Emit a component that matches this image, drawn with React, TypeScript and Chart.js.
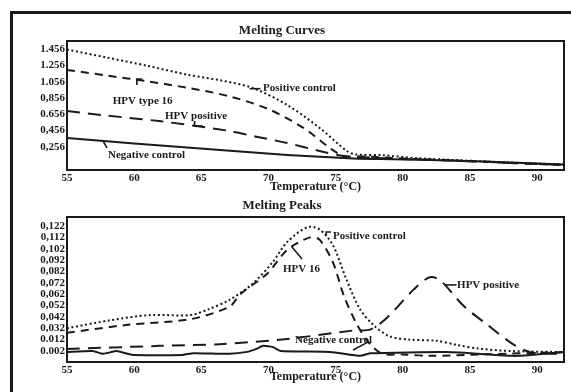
import React, { useEffect, useRef } from 'react';
import { Chart, registerables } from 'chart.js';

Chart.register(...registerables);

const FONT = "'Liberation Serif', 'Times New Roman', serif";
const INK = '#1a1a1a';

// ---------- shared axis ----------
const xTicks = [55, 60, 65, 70, 75, 80, 85, 90];
const xMin = 55;
const xMax = 92;
const xTitle = 'Temperature (°C)';

// ---------- Melting Curves ----------
const curvesTitle = 'Melting Curves';
const curvesYTicks = [1.456, 1.256, 1.056, 0.856, 0.656, 0.456, 0.256];
const curvesYLabels = ['1.456', '1.256', '1.056', '0,856', '0.656', '0,456', '0,256'];

const curvesPosCtrlT = [55, 58, 61, 64, 66.5, 68.8, 71.4, 73.8, 75.8, 76.5, 78.5, 81, 84, 88, 92];
const curvesPosCtrlV = [1.45, 1.35, 1.25, 1.14, 1.07, 0.98, 0.77, 0.49, 0.21, 0.165, 0.155, 0.12, 0.095, 0.065, 0.04];

const curvesHpv16T = [55, 58, 61, 64, 67, 70, 72.6, 74.6, 75.6, 77, 80, 84, 88, 92];
const curvesHpv16V = [1.2, 1.13, 1.06, 0.98, 0.88, 0.72, 0.49, 0.24, 0.146, 0.14, 0.115, 0.09, 0.06, 0.035];

const curvesHpvPosT = [55, 58, 62, 67, 69, 71.4, 73.8, 75.6, 77, 80, 84, 88, 92];
const curvesHpvPosV = [0.696, 0.64, 0.57, 0.455, 0.385, 0.305, 0.207, 0.146, 0.13, 0.11, 0.088, 0.06, 0.035];

const curvesNegT = [55, 60, 66.4, 71.4, 76.3, 78.3, 82, 86, 92];
const curvesNegV = [0.366, 0.3, 0.219, 0.158, 0.115, 0.108, 0.098, 0.078, 0.04];

// ---------- Melting Peaks ----------
const peaksTitle = 'Melting Peaks';
const peaksYTicks = [0.122, 0.112, 0.102, 0.092, 0.082, 0.072, 0.062, 0.052, 0.042, 0.032, 0.022, 0.012];
const peaksYLabels = ['0,122', '0,112', '0,102', '0,092', '0,082', '0,072', '0,062', '0,052', '0,042', '0,032', '0.012', '0.002'];

const peaksPosCtrlT = [55, 58.2, 61.2, 64.2, 65.6, 67.1, 68.8, 70.3, 71.4, 72.9, 73.8, 74.8, 75.8, 76.8, 77.8, 79, 80.5, 82.5, 84, 85.7, 88, 92];
const peaksPosCtrlV = [0.032, 0.039, 0.0436, 0.0436, 0.049, 0.057, 0.071, 0.09, 0.108, 0.121, 0.119, 0.105, 0.075, 0.049, 0.035, 0.025, 0.022, 0.021, 0.0174, 0.014, 0.012, 0.011];

const peaksHpv16T = [55, 59.5, 64.2, 67.1, 67.9, 69.9, 71.4, 73.1, 73.8, 74.8, 75.6, 76.6, 77.6, 78.5, 80, 82, 86, 92];
const peaksHpv16V = [0.028, 0.035, 0.04, 0.051, 0.062, 0.08, 0.101, 0.112, 0.11, 0.09, 0.061, 0.035, 0.0174, 0.0095, 0.009, 0.0077, 0.009, 0.011];

const peaksHpvPosT = [55, 61.9, 66.4, 71.4, 76.3, 77.6, 78.8, 80.8, 82, 82.8, 84.5, 86.3, 88.2, 89.5, 92];
const peaksHpvPosV = [0.0137, 0.0165, 0.018, 0.0226, 0.03, 0.031, 0.041, 0.066, 0.0769, 0.074, 0.052, 0.035, 0.018, 0.011, 0.0094];

const peaksNegT = [55, 56.9, 57.7, 58.7, 59.5, 59.9, 63.6, 64.4, 67.1, 68.4, 69.1, 69.6, 70.3, 70.9, 74.6, 76.8, 77.6, 83.3, 88.2, 89.5, 92];
const peaksNegV = [0.0112, 0.012, 0.0095, 0.012, 0.0095, 0.0085, 0.0085, 0.01, 0.0095, 0.0112, 0.0139, 0.0165, 0.0156, 0.012, 0.0112, 0.0077, 0.01, 0.011, 0.0077, 0.0085, 0.0112];

// ---------- annotations (data coords) ----------
type Note = { text: string; x: number; y: number; leader: [number, number][] };

const curvesNotes: Note[] = [
  { text: 'Positive control', x: 69.6, y: 0.978, leader: [[68.6, 0.97], [69.4, 0.97]] },
  { text: 'HPV type 16', x: 58.4, y: 0.819, leader: [[60.2, 1.015], [60.2, 1.088], [60.6, 1.088]] },
  { text: 'HPV positive', x: 62.3, y: 0.635, leader: [[64.5, 0.574], [64.5, 0.513], [65.1, 0.513]] },
  { text: 'Negative control', x: 58.05, y: 0.158, leader: [[57.68, 0.329], [57.98, 0.244]] },
];

const peaksNotes: Note[] = [
  { text: 'Positive control', x: 74.8, y: 0.1132, leader: [[74.3, 0.1137], [74.3, 0.1167], [74.65, 0.1167]] },
  { text: 'HPV 16', x: 71.08, y: 0.0841, leader: [[71.75, 0.1035], [72.5, 0.093]] },
  { text: 'HPV positive', x: 84.04, y: 0.0701, leader: [[83.15, 0.0701], [84.0, 0.0701]] },
  { text: 'Negative control', x: 71.98, y: 0.0216, leader: [[77.4, 0.0198], [76.3, 0.0128]] },
];

const boxPlugin = {
  id: 'boxNotes',
  afterDatasetsDraw(chart: any, _args: any, opts: any) {
    const { ctx, chartArea } = chart;
    const xs = chart.scales.x;
    const ys = chart.scales.y;
    ctx.save();
    ctx.strokeStyle = INK;
    ctx.lineWidth = 2;
    ctx.strokeRect(chartArea.left, chartArea.top, chartArea.right - chartArea.left, chartArea.bottom - chartArea.top);
    const notes: Note[] = (opts && opts.notes) || [];
    ctx.fillStyle = INK;
    ctx.font = `bold 11px ${FONT}`;
    ctx.textAlign = 'left';
    ctx.textBaseline = 'middle';
    ctx.lineWidth = 1.6;
    for (const n of notes) {
      ctx.fillText(n.text, xs.getPixelForValue(n.x), ys.getPixelForValue(n.y));
      if (n.leader.length > 1) {
        ctx.beginPath();
        n.leader.forEach(([lx, ly], i) => {
          const px = xs.getPixelForValue(lx);
          const py = ys.getPixelForValue(ly);
          if (i === 0) ctx.moveTo(px, py);
          else ctx.lineTo(px, py);
        });
        ctx.stroke();
      }
    }
    ctx.restore();
  },
};

const styles = {
  posCtrl: { borderDash: [2, 2.6], tension: 0.3 },
  hpv16: { borderDash: [8, 6], tension: 0.3 },
  hpvPos: { borderDash: [13, 8], tension: 0.3 },
  neg: { borderDash: [], tension: 0.15 },
};

function series(label: string, T: number[], V: number[], st: any) {
  return {
    label,
    data: T.map((t, i) => ({ x: t, y: V[i] })),
    borderColor: INK,
    borderWidth: 2,
    pointRadius: 0,
    fill: false,
    ...st,
  };
}

function buildConfig(p: any) {
  return {
    type: 'line',
    data: { datasets: p.datasets },
    plugins: [boxPlugin],
    options: {
      animation: false,
      responsive: false,
      devicePixelRatio: 1,
      layout: { padding: { left: 0, right: 7, top: 0, bottom: 0 } },
      plugins: {
        legend: { display: false },
        tooltip: { enabled: false },
        title: {
          display: true,
          text: p.title,
          color: INK,
          font: { family: FONT, size: 13, weight: 'bold' },
          padding: p.titlePad,
        },
        boxNotes: { notes: p.notes },
      },
      scales: {
        x: {
          type: 'linear',
          min: xMin,
          max: xMax,
          afterBuildTicks: (s: any) => {
            s.ticks = xTicks.map((v) => ({ value: v }));
          },
          afterFit: (s: any) => {
            s.height = p.xHeight;
          },
          grid: { display: false, drawTicks: false },
          border: { display: false },
          ticks: {
            color: INK,
            font: { family: FONT, size: 11, weight: 'bold' },
            padding: 2,
            maxRotation: 0,
            autoSkip: false,
          },
          title: {
            display: true,
            text: xTitle,
            color: INK,
            font: { family: FONT, size: 12, weight: 'bold' },
            padding: { top: 0, bottom: p.xTitlePad },
          },
        },
        y: {
          type: 'linear',
          min: p.yMin,
          max: p.yMax,
          afterBuildTicks: (s: any) => {
            s.ticks = p.yTicks.map((v: number) => ({ value: v }));
          },
          afterFit: (s: any) => {
            s.width = 67;
          },
          grid: { display: false, drawTicks: false },
          border: { display: false },
          ticks: {
            color: INK,
            font: { family: FONT, size: 11, weight: 'bold' },
            padding: 2,
            autoSkip: false,
            callback: (_v: any, i: number) => p.yLabels[i],
          },
        },
      },
    },
  };
}

function ChartCanvas({ top, height, cfg }: { top: number; height: number; cfg: () => any }) {
  const ref = useRef<HTMLCanvasElement>(null);
  useEffect(() => {
    const chart = new Chart(ref.current as HTMLCanvasElement, cfg() as any);
    return () => chart.destroy();
  }, []);
  return (
    <canvas
      ref={ref}
      width={571}
      height={height}
      style={{ position: 'absolute', left: 0, top, width: 571, height }}
    />
  );
}

export default function App() {
  const curvesCfg = () =>
    buildConfig({
      title: curvesTitle,
      titlePad: { top: 23.2, bottom: 2.2 },
      xHeight: 25,
      xTitlePad: 1,
      yMin: -0.026,
      yMax: 1.554,
      yTicks: curvesYTicks,
      yLabels: curvesYLabels,
      notes: curvesNotes,
      datasets: [
        series('Positive control', curvesPosCtrlT, curvesPosCtrlV, styles.posCtrl),
        series('HPV type 16', curvesHpv16T, curvesHpv16V, styles.hpv16),
        series('HPV positive', curvesHpvPosT, curvesHpvPosV, styles.hpvPos),
        series('Negative control', curvesNegT, curvesNegV, styles.neg),
      ],
    });
  const peaksCfg = () =>
    buildConfig({
      title: peaksTitle,
      titlePad: { top: 3.2, bottom: 3.2 },
      xHeight: 30,
      xTitlePad: 7.8,
      yMin: 0.0023,
      yMax: 0.1299,
      yTicks: peaksYTicks,
      yLabels: peaksYLabels,
      notes: peaksNotes,
      datasets: [
        series('Positive control', peaksPosCtrlT, peaksPosCtrlV, styles.posCtrl),
        series('HPV 16', peaksHpv16T, peaksHpv16V, styles.hpv16),
        series('HPV positive', peaksHpvPosT, peaksHpvPosV, styles.hpvPos),
        series('Negative control', peaksNegT, peaksNegV, styles.neg),
      ],
    });
  return (
    <div style={{ position: 'fixed', left: 0, top: 0, width: 571, height: 392, background: '#fff', overflow: 'hidden' }}>
      <div
        style={{
          position: 'absolute',
          left: 10,
          top: 11,
          width: 600,
          height: 420,
          borderLeft: `3px solid ${INK}`,
          borderTop: `3px solid ${INK}`,
        }}
      />
      <ChartCanvas top={0} height={195} cfg={curvesCfg} />
      <ChartCanvas top={195} height={197} cfg={peaksCfg} />
    </div>
  );
}
